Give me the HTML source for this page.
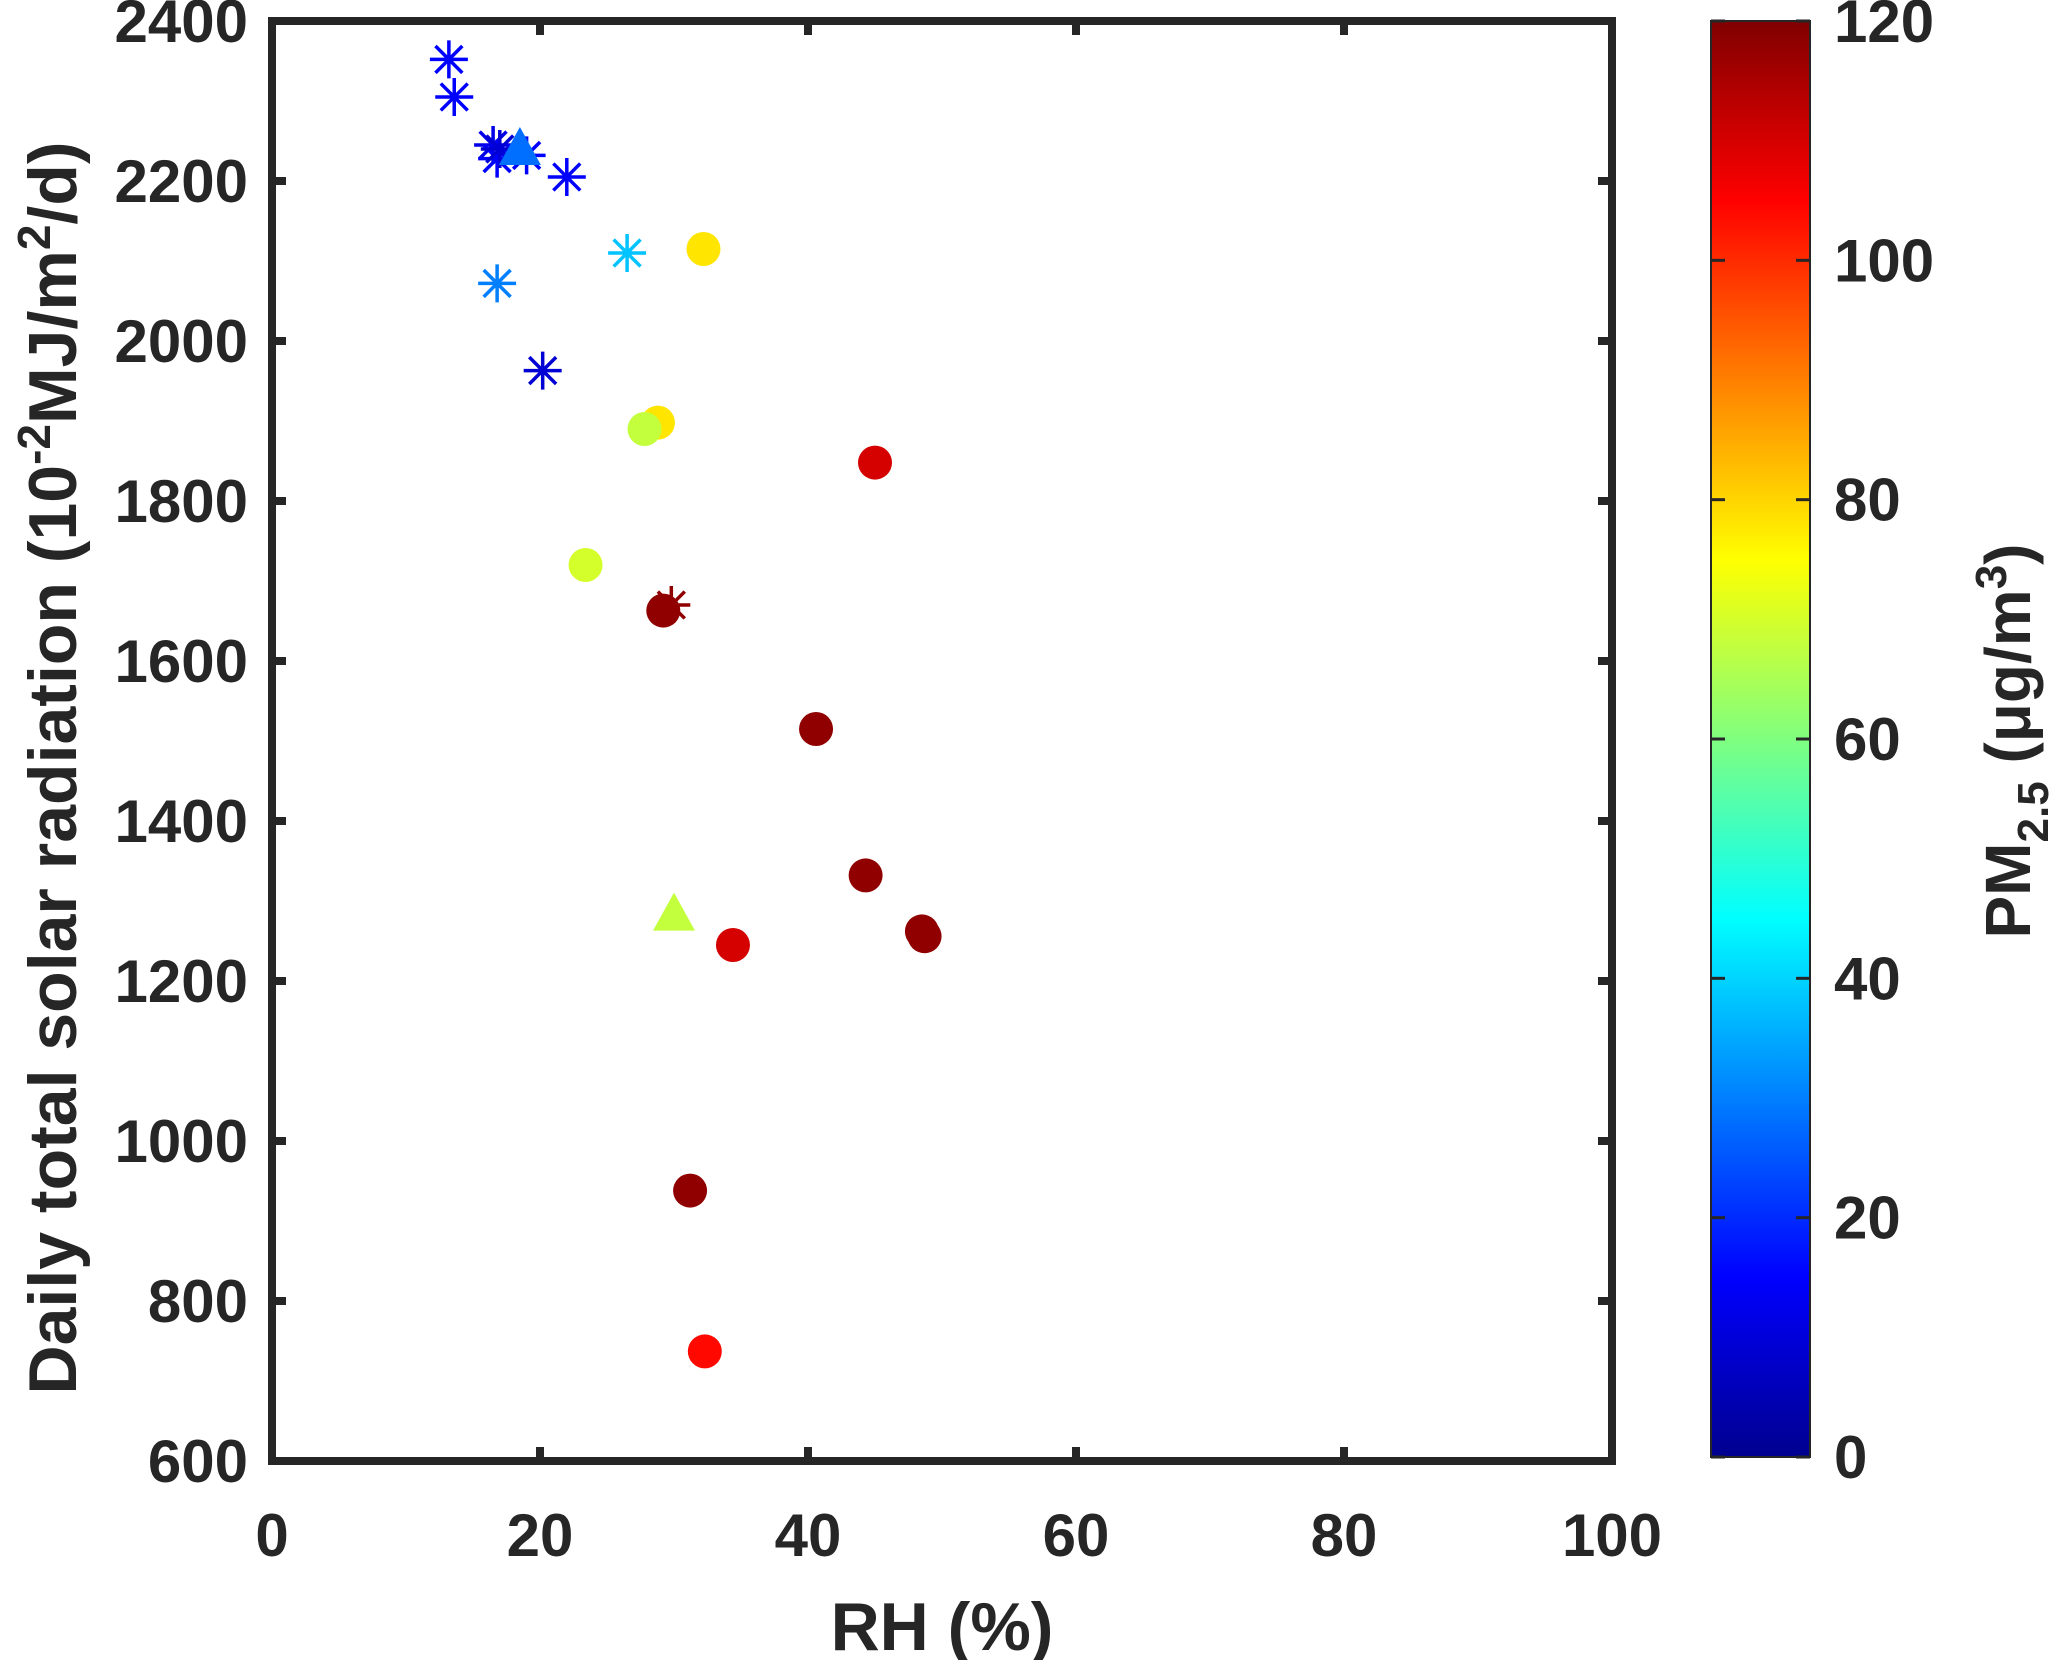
<!DOCTYPE html>
<html><head><meta charset="utf-8"><style>
html,body{margin:0;padding:0;background:#fff;}
svg{display:block;font-family:"Liberation Sans",Arial,sans-serif;font-weight:bold;}
</style></head><body>
<svg id="chart" width="2064" height="1660" viewBox="0 0 2064 1660" xmlns="http://www.w3.org/2000/svg">
<defs>
<linearGradient id="jet" x1="0" y1="1" x2="0" y2="0">
<stop offset="0" stop-color="#00008f"/><stop offset="0.125" stop-color="#0000ff"/>
<stop offset="0.375" stop-color="#00ffff"/><stop offset="0.625" stop-color="#ffff00"/>
<stop offset="0.875" stop-color="#ff0000"/><stop offset="1" stop-color="#800000"/>
</linearGradient>
</defs>
<g id="marks"></g>
<g id="axes"></g>
<rect x="1711" y="21" width="99" height="1436" fill="url(#jet)" stroke="#262626" stroke-width="2"/>
<g id="cbticks"></g>
<text x="942" y="1650" font-size="68" text-anchor="middle" fill="#262626">RH (%)</text>
<text transform="translate(76,768) rotate(-90)" font-size="68" text-anchor="middle" fill="#262626">Daily total solar radiation (10<tspan dy="-26" font-size="46">-2</tspan><tspan dy="26">MJ/m</tspan><tspan dy="-26" font-size="46">2</tspan><tspan dy="26">/d)</tspan></text>
<text transform="translate(2030,741) rotate(-90)" font-size="64" text-anchor="middle" fill="#262626">PM<tspan dy="18" font-size="44">2.5</tspan><tspan dy="-18"> (μg/m</tspan><tspan dy="-24" font-size="44">3</tspan><tspan dy="24">)</tspan></text>
</svg>
<script>
const xTicks=[0,20,40,60,80,100];
const yTicks=[600,800,1000,1200,1400,1600,1800,2000,2200,2400];
const cTicks=[0,20,40,60,80,100,120];
const rh=[13.2,13.6,16.5,16.8,17,19,22,26.5,16.8,20.2,29.8, 18.5,30, 32.2,28.8,27.8,45,23.4,29.2,40.6,44.3,48.5,48.7,34.4,31.2,32.3];
const rad=[2352,2305,2245,2228,2240,2232,2205,2110,2072,1963,1670, 2240,1283, 2115,1898,1890,1848,1720,1663,1515,1332,1262,1256,1245,938,737];
const pm=[15,15,12,15,10,15,15,38,30,10,118, 28,68, 78,78,68,110,70,118,118,118,118,118,110,118,104];
const shape=['s','s','s','s','s','s','s','s','s','s','s','t','t','c','c','c','c','c','c','c','c','c','c','c','c','c'];
const X0=272,X1=1612,Y0=1461,Y1=21;
const xs=v=>X0+(v-0)/100*(X1-X0);
const ys=v=>Y0-(v-600)/1800*(Y0-Y1);
const cs=v=>1457-(v/120)*1436;
function jet(v){let t=Math.max(0,Math.min(1,v/120));
 const f=c=>Math.max(0,Math.min(1,1.5-Math.abs(4*t-c)));
 return `rgb(${Math.round(255*f(3))},${Math.round(255*f(2))},${Math.round(255*f(1))})`;}
const NS="http://www.w3.org/2000/svg";
function mk(tag,attrs,parent){const e=document.createElementNS(NS,tag);for(const k in attrs)e.setAttribute(k,attrs[k]);parent.appendChild(e);return e;}
const marks=document.getElementById('marks');
for(let i=0;i<rh.length;i++){
 const x=xs(rh[i]),y=ys(rad[i]),col=jet(pm[i]);let e;
 if(shape[i]==='c'){e=mk('circle',{cx:x,cy:y,r:17,fill:col},marks);}
 else if(shape[i]==='t'){e=mk('polygon',{points:`${x},${y-22} ${x-21},${y+16} ${x+21},${y+16}`,fill:col},marks);}
 else{let d='';for(let a=0;a<4;a++){const an=a*Math.PI/4;const dx=19*Math.cos(an),dy=19*Math.sin(an);d+=`M${x-dx},${y-dy}L${x+dx},${y+dy}`;}
  e=mk('path',{d:d,stroke:col,'stroke-width':3.5,fill:'none'},marks);}
 
 
}
const ax=document.getElementById('axes');
const box=mk('rect',{x:X0,y:Y1,width:X1-X0,height:Y0-Y1,fill:'none',stroke:'#262626','stroke-width':8},ax);


xTicks.forEach(v=>{const x=xs(v);
 mk('line',{x1:x,y1:Y0,x2:x,y2:Y0-14,stroke:'#262626','stroke-width':8},ax);
 mk('line',{x1:x,y1:Y1,x2:x,y2:Y1+14,stroke:'#262626','stroke-width':8},ax);
 const t=mk('text',{x:x,y:1556,'font-size':60,'text-anchor':'middle',fill:'#262626'},ax);t.textContent=v;
 
 });
yTicks.forEach(v=>{const y=ys(v);
 mk('line',{x1:X0,y1:y,x2:X0+14,y2:y,stroke:'#262626','stroke-width':8},ax);
 mk('line',{x1:X1,y1:y,x2:X1-14,y2:y,stroke:'#262626','stroke-width':8},ax);
 const t=mk('text',{x:248,y:y+21,'font-size':60,'text-anchor':'end',fill:'#262626'},ax);t.textContent=v;
 
 });
const cb=document.getElementById('cbticks');
cTicks.forEach(v=>{const y=cs(v);
 mk('line',{x1:1796,y1:y,x2:1810,y2:y,stroke:'#262626','stroke-width':3},cb);
 mk('line',{x1:1711,y1:y,x2:1725,y2:y,stroke:'#262626','stroke-width':3},cb);
 const t=mk('text',{x:1834,y:y+21,'font-size':60,fill:'#262626'},cb);t.textContent=v;
 
 });
</script>
</body></html>
